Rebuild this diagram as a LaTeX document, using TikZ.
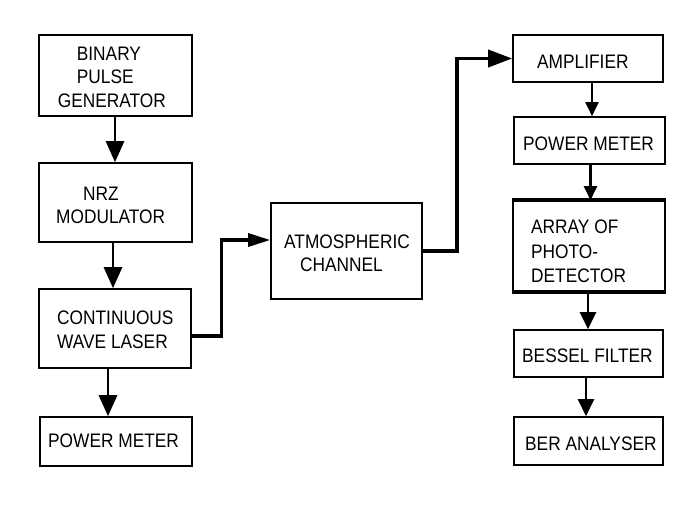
\documentclass[tikz,border=0pt]{standalone}
\usepackage{fontspec}
\usepackage{graphicx}
\setmainfont{Liberation Sans}
\usetikzlibrary{arrows.meta}
\newcommand\stretchtxt[1]{\scalebox{1}[1.13]{#1}}
\begin{document}
\begin{tikzpicture}[x=1pt,y=-1pt,
  box/.style={draw, line width=1.6pt, inner sep=0pt},
  lbl/.style={anchor=base west, inner sep=0pt, font=\fontsize{17.3}{20}\selectfont},
  bigarr/.style={line width=2.8pt, -{Triangle[width=18pt,length=21pt]}},
  smallarr/.style={line width=2.2pt, -{Triangle[width=13pt,length=14pt]}},
  midarr/.style={line width=2.2pt, -{Triangle[width=16pt,length=17pt]}},
  link/.style={line width=3.2pt, line join=miter}]
\fill[white] (0,0) rectangle (683,515);
\useasboundingbox (0,0) rectangle (683,515);

% boxes
\node (b1) [box, minimum width=153pt, minimum height=81pt] at (115.5,75.5) {};
\node (b2) [box, minimum width=153pt, minimum height=79pt] at (115.5,202.5) {};
\node (b3) [box, minimum width=152pt, minimum height=79pt] at (115,328.5) {};
\node (b4) [box, minimum width=152pt, minimum height=49pt] at (116,441.5) {};
\node (b5) [box, minimum width=151pt, minimum height=96pt] at (346.5,251) {};
\node (b6) [box, minimum width=150pt, minimum height=47pt] at (588,58.5) {};
\node (b7) [box, minimum width=151pt, minimum height=47pt] at (589.5,140.5) {};
\node (b8) [box, minimum width=152pt, minimum height=90pt] at (589,246) {};
\node (b9) [box, minimum width=149pt, minimum height=47pt] at (588.5,353.5) {};
\node (b10) [box, minimum width=149pt, minimum height=48pt] at (588.5,441) {};
\draw[line width=3.5pt] (b8.north west) -- (b8.north east);
\draw[line width=3.5pt] (b8.south west) -- (b8.south east);

% texts
\node (t1a) [lbl] at (76.7,60) {\stretchtxt{BINARY}};
\node (t1b) [lbl] at (76.7,83.3) {\stretchtxt{PULSE}};
\node (t1c) [lbl] at (57.7,107.3) {\stretchtxt{GENERATOR}};
\node (t2a) [lbl] at (83,200) {\stretchtxt{NRZ}};
\node (t2b) [lbl] at (56,223) {\stretchtxt{MODULATOR}};
\node (t3a) [lbl] at (57,324) {\stretchtxt{CONTINUOUS}};
\node (t3b) [lbl] at (57,348) {\stretchtxt{WAVE LASER}};
\node (t4) [lbl] at (48,447) {\stretchtxt{POWER METER}};
\node (t5a) [lbl] at (284,248) {\stretchtxt{ATMOSPHERIC}};
\node (t5b) [lbl] at (300,271) {\stretchtxt{CHANNEL}};
\node (t6) [lbl] at (537,68) {\stretchtxt{AMPLIFIER}};
\node (t7) [lbl] at (523,150) {\stretchtxt{POWER METER}};
\node (t8a) [lbl] at (531,233) {\stretchtxt{ARRAY OF}};
\node (t8b) [lbl] at (531,258) {\stretchtxt{PHOTO-}};
\node (t8c) [lbl] at (531,282) {\stretchtxt{DETECTOR}};
\node (t9) [lbl] at (522,362) {\stretchtxt{BESSEL FILTER}};
\node (t10) [lbl] at (525,450) {\stretchtxt{BER ANALYSER}};

% left column arrows
\draw[bigarr] ([xshift=-0.5pt]b1.south) -- ([xshift=-0.5pt]b2.north);
\draw[bigarr] ([xshift=-2.5pt]b2.south) -- ([xshift=-2pt]b3.north);
\draw[bigarr] ([xshift=-7pt]b3.south) -- ([xshift=-8pt]b4.north);

% right column arrows
\draw[smallarr] ([xshift=4pt]b6.south) -- ([xshift=2.5pt]b7.north);
\draw[smallarr] ([xshift=1pt]b7.south) -- ([xshift=1.5pt]b8.north);
\draw[midarr] ([xshift=-1pt]b8.south) -- ([xshift=-0.5pt]b9.north);
\draw[midarr] ([xshift=-2.5pt]b9.south) -- ([xshift=-2.5pt]b10.north);

% links
\draw[link, -{Triangle[width=13pt,length=22pt]}] ([yshift=-7.5pt]b3.east) -- ++(30,0) |- ([yshift=11pt]b5.west);
\draw[link, line width=3.6pt, -{Triangle[width=17pt,length=24pt]}] (b5.east) -- ++(34,0) |- (b6.west);
\end{tikzpicture}
\end{document}
